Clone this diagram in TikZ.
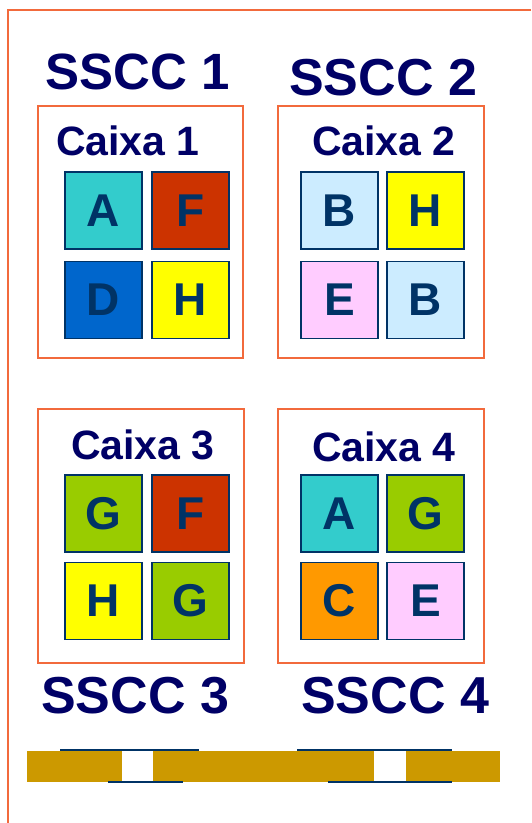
\documentclass[tikz,border=0pt]{standalone}
\usepackage{fontspec}
\setmainfont{Liberation Sans}
\definecolor{frameorange}{HTML}{F26A3C}
\definecolor{titlenavy}{HTML}{000066}
\definecolor{letternavy}{HTML}{003366}
\definecolor{cteal}{HTML}{33CCCC}
\definecolor{cred}{HTML}{CC3300}
\definecolor{cblue}{HTML}{0066CC}
\definecolor{cyellow}{HTML}{FFFF00}
\definecolor{clightblue}{HTML}{CCECFF}
\definecolor{cpink}{HTML}{FFCCFF}
\definecolor{cgreen}{HTML}{99CC00}
\definecolor{corange}{HTML}{FF9900}
\definecolor{gold}{HTML}{CC9900}
\tikzset{
  caixabox/.style={draw=frameorange, line width=1.8pt, inner sep=0pt, minimum width=#1},
  item/.style={draw=letternavy, line width=1.8pt, fill=#1, minimum size=77pt, inner sep=0pt,
    text=letternavy, font=\fontsize{46}{46}\selectfont\bfseries},
  caixatitle/.style={anchor=base west, inner sep=0pt, text=titlenavy, font=\fontsize{41}{41}\selectfont\bfseries},
  sscctitle/.style={anchor=base west, inner sep=0pt, text=titlenavy, font=\fontsize{#1}{#1}\selectfont\bfseries},
  navyline/.style={draw=letternavy, line width=1.5pt},
  framerule/.style={draw=frameorange, line width=2pt},
}
\begin{document}
\begin{tikzpicture}[x=1pt, y=-1pt]
\useasboundingbox (0,0) rectangle (531,823);
\fill[white] (0,0) rectangle (531,823);
% outer frame
\coordinate (ftop) at (531,9.5);
\coordinate (fcorner) at (7.5,9.5);
\coordinate (fbottom) at (7.5,823);
\path[framerule] (ftop) -- (fcorner) -- (fbottom);

% boxes
\node[caixabox=205pt, minimum height=252pt] (box1) at (140.5,232) {};
\node[caixabox=206pt, minimum height=252pt] (box2) at (381,232) {};
\node[caixabox=206pt, minimum height=254pt] (box3) at (141,536) {};
\node[caixabox=206pt, minimum height=254pt] (box4) at (381,536) {};

% titles
\node[sscctitle=51] (s1) at (45,89) {SSCC 1};
\node[sscctitle=52] (s2) at (289,95) {SSCC 2};
\node[sscctitle=52] (s3) at (41,713) {SSCC 3};
\node[sscctitle=52] (s4) at (301,713) {SSCC 4};

\node[caixatitle] (c1) at (56,155) {Caixa 1};
\node[caixatitle] (c2) at (312,155) {Caixa 2};
\node[caixatitle] (c3) at (71,459) {Caixa 3};
\node[caixatitle] (c4) at (312,461) {Caixa 4};

% Caixa 1
\node[item=cteal]   (b1a) at (103.5,210.5) {A};
\node[item=cred]    (b1f) at (190.5,210.5) {F};
\node[item=cblue]   (b1d) at (103.5,300) {D};
\node[item=cyellow] (b1h) at (190.5,300) {H};
% Caixa 2
\node[item=clightblue] (b2b) at (339.5,210.5) {B};
\node[item=cyellow]    (b2h) at (425.5,210.5) {H};
\node[item=cpink]      (b2e) at (339.5,300) {E};
\node[item=clightblue] (b2b2) at (425.5,300) {B};
% Caixa 3
\node[item=cgreen]  (b3g) at (103.5,513.5) {G};
\node[item=cred]    (b3f) at (190.5,513.5) {F};
\node[item=cyellow] (b3h) at (103.5,601) {H};
\node[item=cgreen]  (b3g2) at (190.5,601) {G};
% Caixa 4
\node[item=cteal]   (b4a) at (339.5,513.5) {A};
\node[item=cgreen]  (b4g) at (425.5,513.5) {G};
\node[item=corange] (b4c) at (339.5,601) {C};
\node[item=cpink]   (b4e) at (425.5,601) {E};

% bottom bar
\fill[gold] (27,751) rectangle (500,782);
\fill[white] (122,751) rectangle (153,782);
\fill[white] (374,751) rectangle (406,782);
\coordinate (l1a) at (60,750);  \coordinate (l1b) at (199,750);
\coordinate (l2a) at (108,782); \coordinate (l2b) at (183,782);
\coordinate (l3a) at (297,750); \coordinate (l3b) at (452,750);
\coordinate (l4a) at (328,782); \coordinate (l4b) at (452,782);
\draw[navyline] (l1a) -- (l1b);
\draw[navyline] (l2a) -- (l2b);
\draw[navyline] (l3a) -- (l3b);
\draw[navyline] (l4a) -- (l4b);
\end{tikzpicture}
\end{document}
